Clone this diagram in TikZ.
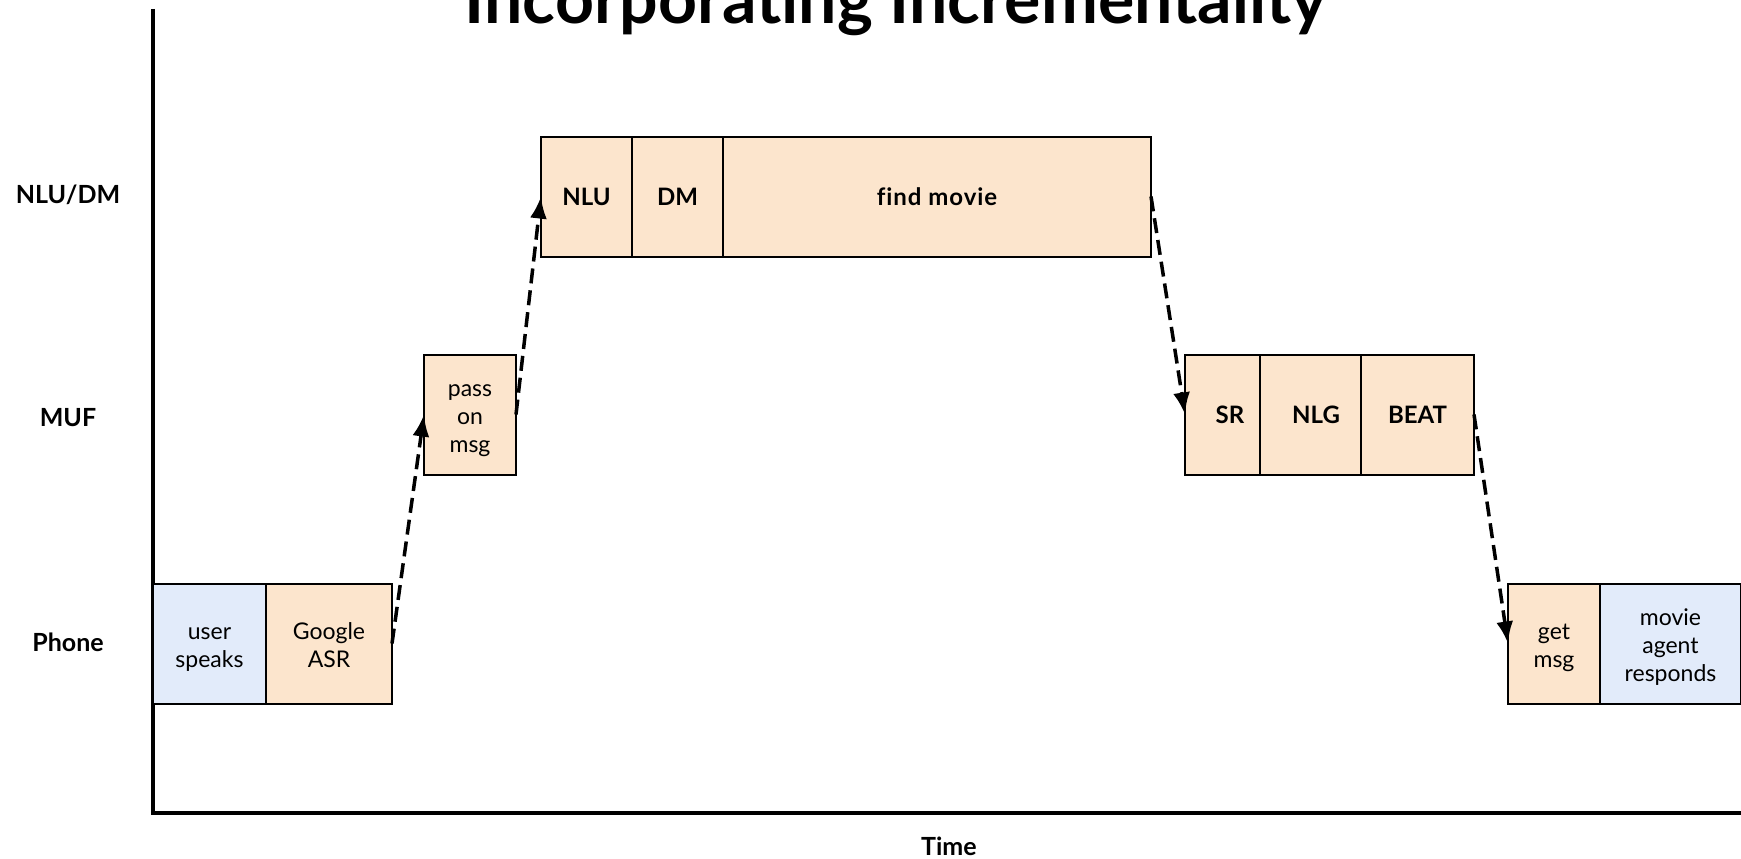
\documentclass[tikz,border=0pt]{standalone}
\usepackage{fontspec}
\setmainfont{Lato}[Ligatures=NoCommon]
\usetikzlibrary{positioning,arrows.meta}

\definecolor{peach}{HTML}{FCE5CD}
\definecolor{paleblue}{HTML}{E2EBFA}
\newcommand{\topgap}{\rule{0pt}{29pt}}

\tikzset{
  box/.style={draw, line width=2pt, fill=peach, minimum height=120pt,
    inner sep=0pt, outer sep=0pt, align=center,
    font=\fontsize{23}{28}\selectfont},
  userbox/.style={box, fill=paleblue},
  stage/.style={box, font=\fontsize{24}{28}\selectfont\bfseries},
  lane/.style={font=\fontsize{25}{30}\selectfont\bfseries},
  hop/.style={line width=3.5pt, dash pattern=on 15pt off 7pt,
    -{Latex[length=22pt,width=17pt]}},
}

\begin{document}
\begin{tikzpicture}[x=1pt,y=-1pt]
	\useasboundingbox (0,0) rectangle (1741,859);
	% axes
	\coordinate (top) at (153,9);
	\coordinate (origin) at (153,813);
	\coordinate (xend) at (1741,813);
	\draw[line width=3.5pt] (top) -- (origin) -- (xend);
	\node[anchor=base, font=\fontsize{68}{74}\selectfont\bfseries] (title) at (896,24) {Incorporating Incrementality};
	\node[lane] (laneA) at (68,195) {NLU/DM};
	\node[lane] (laneB) at (68,418) {MUF};
	\node[lane] (laneC) at (68,642) {Phone};
	\node[lane] (time) at (949,846) {Time};
	% phone
	\node[userbox, minimum width=113pt] (user) at (209.5,643.5) {\topgap user\\speaks\strut};
	\node[box, minimum width=126pt, right=0pt of user] (asr) {\topgap Google\\ASR\strut};
	% muf
	\node[box, minimum width=92pt] (pass) at (470,414.5) {\topgap pass\\on\\msg\strut};
	% nlu/dm
	\node[stage, minimum width=91pt] (nlu) at (586.5,196.5) {NLU};
	\node[stage, minimum width=91pt, right=0pt of nlu] (dm) {DM};
	\node[stage, minimum width=428pt, right=0pt of dm] (find) {\addfontfeature{LetterSpace=4}find movie};
	% back down
	\node[stage, minimum width=75pt] (sr) at (1222.5,414.5) {\hspace*{15pt}SR};
	\node[stage, minimum width=101pt, right=0pt of sr] (nlg) {\hspace*{11pt}NLG};
	\node[stage, minimum width=113pt, right=0pt of nlg] (beat) {BEAT};
	\node[box, minimum width=92pt] (get) at (1554,643.5) {\topgap get\\msg\strut};
	\node[userbox, minimum width=141pt, right=0pt of get] (agent) {\topgap movie\\agent\\responds\strut};
	% hops
	\draw[hop] (asr.east) -- (pass.west);
	\draw[hop] (pass.east) -- (nlu.west);
	\draw[hop] (find.east) -- (sr.west);
	\draw[hop] (beat.east) -- (get.west);
\end{tikzpicture}
\end{document}
